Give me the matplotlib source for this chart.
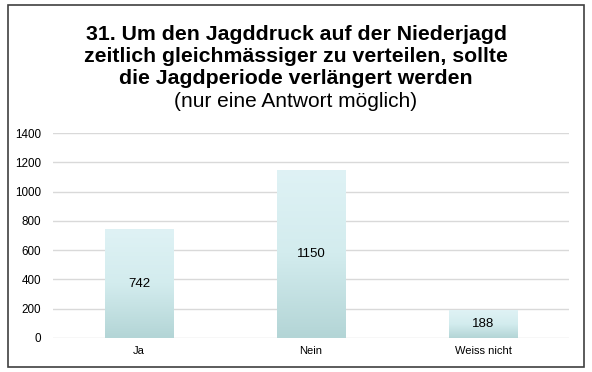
import matplotlib
matplotlib.use("Agg")
import matplotlib.pyplot as plt
import numpy as np
from matplotlib.colors import LinearSegmentedColormap
from matplotlib.patches import Rectangle

plt.rcParams['font.family'] = ['Liberation Sans', 'DejaVu Sans']

categories = ["Ja", "Nein", "Weiss nicht"]
values = [742, 1150, 188]
yticks = [0, 200, 400, 600, 800, 1000, 1200, 1400]
title_lines = ["31. Um den Jagddruck auf der Niederjagd",
               "zeitlich gleichmässiger zu verteilen, sollte",
               "die Jagdperiode verlängert werden"]
title_sub = "(nur eine Antwort möglich)"

fig = plt.figure(figsize=(5.92, 3.72), dpi=100)
fig.patch.set_facecolor("white")

# outer frame
fig.add_artist(Rectangle((8/592, 1-367/372), 576/592, 362/372, transform=fig.transFigure,
                         fill=False, edgecolor="#404040", linewidth=1.2))

ax = fig.add_axes([53/592, 1-338/372, 516/592, 205/372])
x = np.arange(len(categories))
bars = ax.bar(x, values, width=0.4, color="none", edgecolor="none", zorder=2)

cmap = LinearSegmentedColormap.from_list("g", ["#b3d5d6", "#d3ecee", "#dff2f5"])
grad = np.linspace(0, 1, 256).reshape(-1, 1)
for b in bars:
    x0, y0 = b.get_x(), b.get_y()
    w, h = b.get_width(), b.get_height()
    im = ax.imshow(grad, extent=[x0, x0 + w, y0, y0 + h], origin="lower",
                   cmap=cmap, aspect="auto", zorder=2)
    im.set_clip_path(b)

for xi, v in zip(x, values):
    ax.text(xi, v / 2, str(v), ha="center", va="center", fontsize=9.5, color="black", zorder=3)

ax.set_xlim(-0.5, 2.5)
ax.set_ylim(0, 1400)
ax.set_yticks(yticks)
ax.set_yticklabels([str(t) for t in yticks], fontsize=8.4)
ax.set_xticks(x)
ax.set_xticklabels(categories, fontsize=8)
ax.tick_params(axis="both", length=0)
ax.tick_params(axis="x", pad=6)
ax.tick_params(axis="y", pad=8.5)
ax.yaxis.grid(True, color="#d9d9d9", linewidth=1, zorder=0)
ax.set_axisbelow(True)
for s in ax.spines.values():
    s.set_visible(False)

baselines = [39.5, 62, 84.5]
for line, yb in zip(title_lines, baselines):
    fig.text(0.5, 1 - yb/372, line, ha="center", va="baseline", fontsize=15.3,
             fontweight="bold")
fig.text(0.5, 1 - 107/372, title_sub, ha="center", va="baseline", fontsize=15)

fig.savefig("out.png", dpi=100, facecolor="white")
